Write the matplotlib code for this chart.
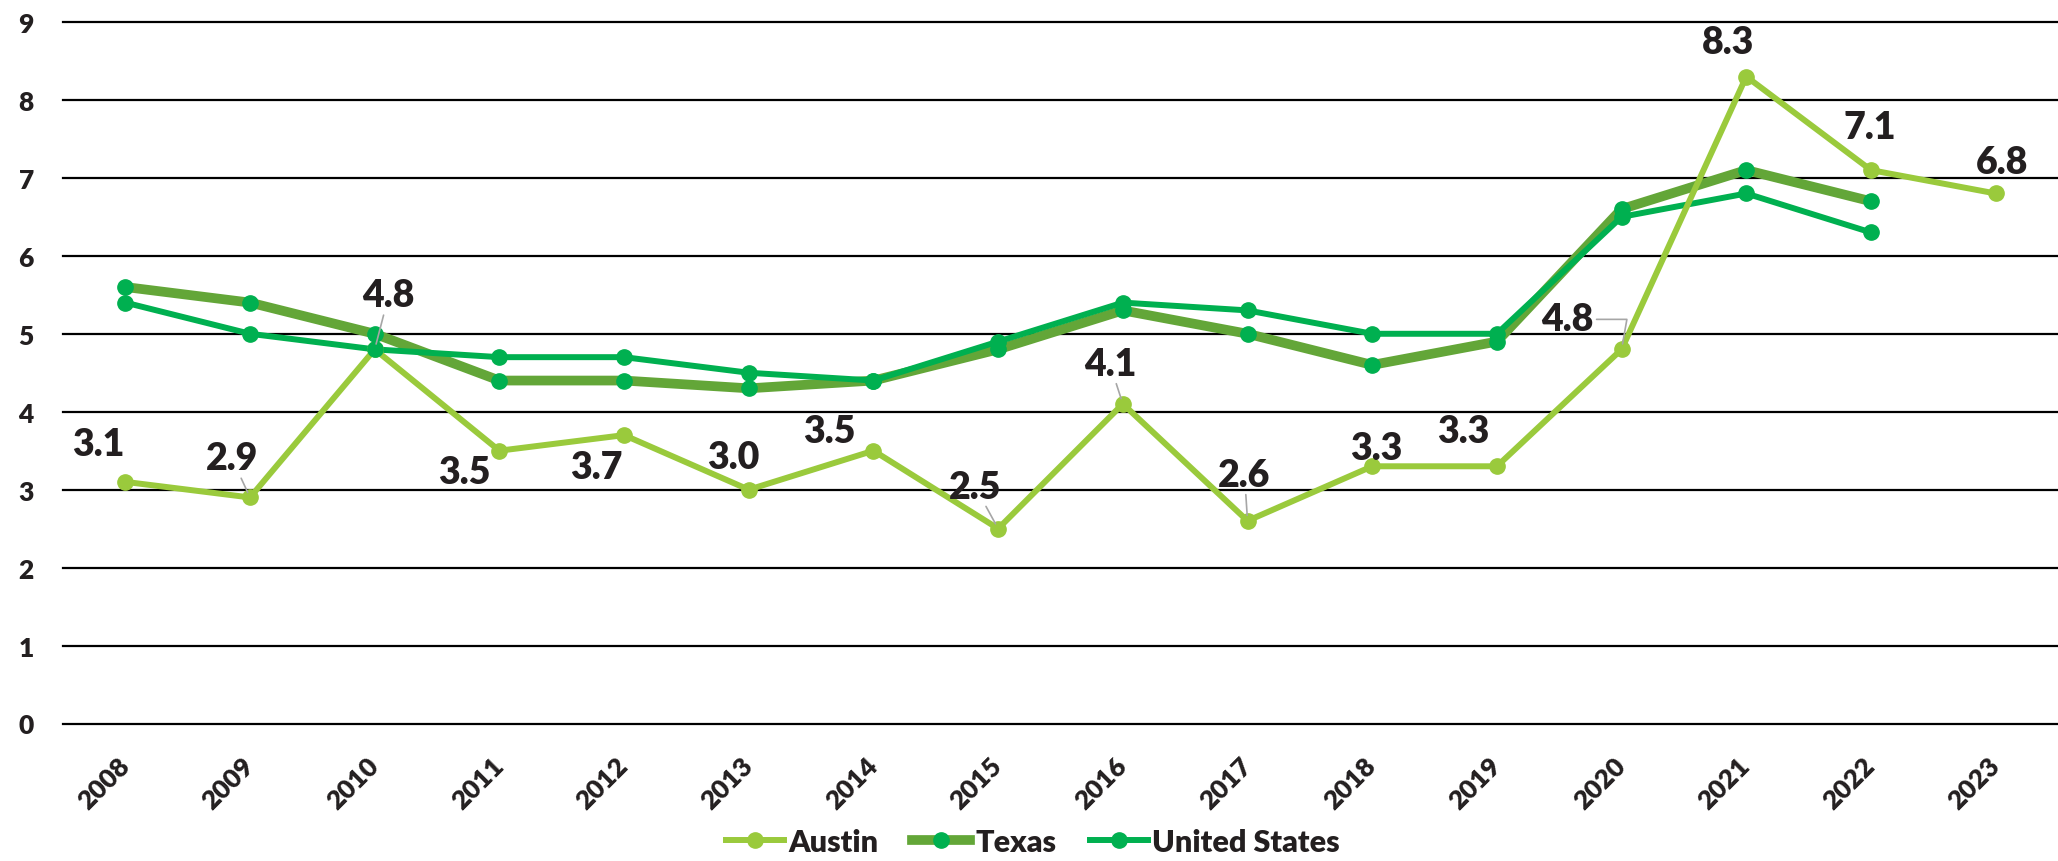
import numpy as np
import matplotlib.pyplot as plt
from matplotlib.lines import Line2D

years = ['2008', '2009', '2010', '2011', '2012', '2013', '2014', '2015',
         '2016', '2017', '2018', '2019', '2020', '2021', '2022', '2023']
austin = [3.1, 2.9, 4.8, 3.5, 3.7, 3.0, 3.5, 2.5, 4.1, 2.6, 3.3, 3.3, 4.8, 8.3, 7.1, 6.8]
texas = [5.6, 5.4, 5.0, 4.4, 4.4, 4.3, 4.4, 4.8, 5.3, 5.0, 4.6, 4.9, 6.6, 7.1, 6.7, np.nan]
usa = [5.4, 5.0, 4.8, 4.7, 4.7, 4.5, 4.4, 4.9, 5.4, 5.3, 5.0, 5.0, 6.5, 6.8, 6.3, np.nan]

# label offsets (pixels) for the Austin data labels, as placed in the original
label_offsets = [(-27, 38), (-18, 39), (14, 54), (-35, -21), (-28, -32), (-15, 33),
                 (-44, 20), (-23, 42), (-13, 40), (-3, 46), (4, 18), (-34, 35),
                 (-54, 30), (-18, 35), (-1, 43), (6, 31)]
leader = {1, 2, 7, 8, 9, 12}

c_austin = '#9ACA3C'
c_texas = '#63A638'
c_us = '#00B050'
txt = '#231F20'
W = 'heavy'

plt.rcParams['font.family'] = ['Lato', 'DejaVu Sans']

fig = plt.figure(figsize=(20.58, 8.62), dpi=100)
ax = fig.add_axes([63 / 2058, 1 - 724.5 / 862, 1 - 63 / 2058, (724.5 - 23) / 862])
x = np.arange(len(years))

ax.set_xlim(-0.5, 15.5)
ax.set_ylim(0, 9)
for v in range(10):
    ax.axhline(v, color='black', lw=1.6, zorder=1, clip_on=False)

# lines first, then markers on top (Excel style)
ax.plot(x, texas, color=c_texas, lw=7, zorder=2, solid_joinstyle='round')
ax.plot(x, usa, color=c_us, lw=4.3, zorder=3)
ax.plot(x, austin, color=c_austin, lw=4.3, zorder=4)
ax.plot(x, austin, 'o', color=c_austin, ms=11, zorder=5)
ax.plot(x, texas, 'o', color=c_us, ms=11, zorder=6)
ax.plot(x, usa, 'o', color=c_us, ms=11, zorder=7)

for i, val in enumerate(austin):
    dx, dy = label_offsets[i]
    kw = {}
    if i in leader:
        cs = 'angle,angleA=0,angleB=80,rad=0' if i == 12 else 'arc3'
        kw['arrowprops'] = dict(arrowstyle='-', color='#A6A6A6', lw=1.2,
                                shrinkA=0, shrinkB=4, connectionstyle=cs)
    ax.annotate(f'{val:.1f}', (x[i], val), xytext=(dx, dy), textcoords='offset pixels',
                ha='center', va='center', fontsize=27, fontweight=W, color=txt,
                zorder=8, **kw)

ax.set_yticks(range(10))
ax.set_xticks(x)
ax.set_xticklabels(years)
ax.tick_params(axis='both', length=0, colors=txt)
ax.tick_params(axis='y', pad=21, labelsize=19)
ax.tick_params(axis='x', pad=27, labelsize=19)
plt.setp(ax.get_xticklabels(), rotation=45, ha='right', va='center',
         rotation_mode='anchor', fontweight=W)
plt.setp(ax.get_yticklabels(), fontweight=W)
for s in ax.spines.values():
    s.set_visible(False)

handles = [
    Line2D([], [], color=c_austin, lw=4.3, marker='o', ms=11),
    Line2D([], [], color=c_texas, lw=7, marker='o', ms=11, mfc=c_us, mec=c_us),
    Line2D([], [], color=c_us, lw=4.3, marker='o', ms=11),
]
fig.legend(handles, ['Austin', 'Texas', 'United States'], loc='center',
           bbox_to_anchor=(1033 / 2058, 1 - 843 / 862), ncol=3, frameon=False,
           handlelength=1.9, handletextpad=0.15, columnspacing=1.1,
           prop={'size': 22, 'weight': W}, labelcolor=txt)

fig.savefig('out.png', dpi=100)
